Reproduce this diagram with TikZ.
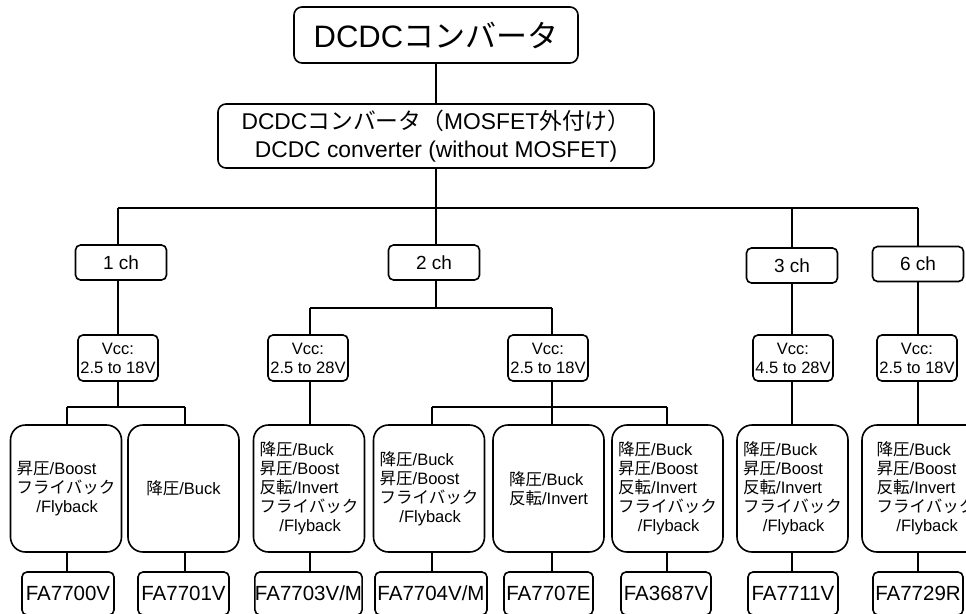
\documentclass[tikz,border=0pt]{standalone}
\usepackage{fontspec}
\setmainfont{Liberation Sans}
\newfontfamily\jp{Noto Sans CJK JP}
\begin{document}
\begin{tikzpicture}[x=1pt,y=-1pt,line width=1.6pt,
  box/.style={draw,rounded corners=5pt,inner sep=0pt,align=center},
  titlebox/.style={box,rounded corners=8pt,minimum width=284pt,minimum height=56pt,font=\fontsize{31}{36}\selectfont},
  convbox/.style={box,rounded corners=8pt,minimum width=436pt,minimum height=64pt,font=\fontsize{22.8}{28}\selectfont},
  chbox/.style={box,minimum width=91pt,minimum height=35pt,font=\fontsize{19}{22}\selectfont},
  vccbox/.style={box,minimum width=80pt,minimum height=46pt,font=\fontsize{16.5}{19}\selectfont},
  modebox/.style={box,rounded corners=15pt,minimum width=111pt,minimum height=127pt,font=\fontsize{16.5}{19}\selectfont,align=left},
  partbox/.style={box,minimum height=43pt,font=\fontsize{20.5}{24}\selectfont}]
\useasboundingbox (0,0) rectangle (966,613);
\clip (0,0) rectangle (966,613);
% nodes
\node[titlebox] (top) at (436,35) {DCDC{\jp コンバータ}};
\node[convbox] (conv) at (436,136) {DCDC{\jp コンバータ（}MOSFET{\jp 外付け）}\\ DCDC converter (without MOSFET)};
\node[chbox] (ch1) at (121,262.5) {1 ch};
\node[chbox] (ch2) at (434,262.5) {2 ch};
\node[chbox] (ch3) at (792,265.5) {3 ch};
\node[chbox] (ch6) at (918,264) {6 ch};
\node[vccbox] (vcc1) at (118,358) {Vcc:\\2.5 to 18V};
\node[vccbox] (vcc2) at (308,358) {Vcc:\\2.5 to 28V};
\node[vccbox] (vcc3) at (548,358) {Vcc:\\2.5 to 18V};
\node[vccbox] (vcc4) at (793,358) {Vcc:\\4.5 to 28V};
\node[vccbox] (vcc5) at (917,358) {Vcc:\\2.5 to 18V};
\node[modebox] (m1) at (66,488.5) {{\jp 昇圧}/Boost\\{\jp フライバック}\\\hspace*{1.2em}/Flyback};
\node[modebox,align=center] (m2) at (183.5,488.5) {{\jp 降圧}/Buck};
\node[modebox] (m3) at (309,488.5) {{\jp 降圧}/Buck\\{\jp 昇圧}/Boost\\{\jp 反転}/Invert\\{\jp フライバック}\\\hspace*{1.2em}/Flyback};
\node[modebox] (m4) at (429,488.5) {{\jp 降圧}/Buck\\{\jp 昇圧}/Boost\\{\jp フライバック}\\\hspace*{1.2em}/Flyback};
\node[modebox] (m5) at (548.5,488.5) {{\jp 降圧}/Buck\\{\jp 反転}/Invert};
\node[modebox] (m6) at (667.5,488.5) {{\jp 降圧}/Buck\\{\jp 昇圧}/Boost\\{\jp 反転}/Invert\\{\jp フライバック}\\\hspace*{1.2em}/Flyback};
\node[modebox] (m7) at (792.5,488.5) {{\jp 降圧}/Buck\\{\jp 昇圧}/Boost\\{\jp 反転}/Invert\\{\jp フライバック}\\\hspace*{1.2em}/Flyback};
\node[modebox,minimum width=128pt] (m8) at (926,488.5) {{\jp 降圧}/Buck\\{\jp 昇圧}/Boost\\{\jp 反転}/Invert\\{\jp フライバック}\\\hspace*{1.2em}/Flyback};
\node[partbox,minimum width=92pt] (p1) at (68,593.5) {FA7700V};
\node[partbox,minimum width=91pt] (p2) at (183.5,593.5) {FA7701V};
\node[partbox,minimum width=107pt] (p3) at (308.5,593.5) {FA7703V/M};
\node[partbox,minimum width=112pt] (p4) at (431,593.5) {FA7704V/M};
\node[partbox,minimum width=89pt] (p5) at (548.5,593.5) {FA7707E};
\node[partbox,minimum width=90pt] (p6) at (666,593.5) {FA3687V};
\node[partbox,minimum width=90pt] (p7) at (793,593.5) {FA7711V};
\node[partbox,minimum width=90pt] (p8) at (918,593.5) {FA7729R};
% junctions
\coordinate (b1) at (118,208);
\coordinate (b2) at (436,208);
\coordinate (b3) at (792,208);
\coordinate (b6) at (918,208);
\coordinate (s1) at (118,407);
\coordinate (s1a) at (67,407);
\coordinate (s1b) at (185,407);
\coordinate (t) at (436,308);
\coordinate (ta) at (310,308);
\coordinate (tb) at (552,308);
\coordinate (ua) at (432,407);
\coordinate (u) at (552,407);
\coordinate (ub) at (667,407);
% connectors
\draw (top) -- (conv);
\draw (conv.south) -- (b2);
\draw (b1) -- (b6);
\draw (b1) -- (b1 |- ch1.north);
\draw (b2) -- (b2 |- ch2.north);
\draw (b3) -- (b3 |- ch3.north);
\draw (b6) -- (b6 |- ch6.north);
% 1 ch
\draw (b1 |- ch1.south) -- (b1 |- vcc1.north);
\draw (b1 |- vcc1.south) -- (s1);
\draw (s1a) -- (s1b);
\draw (s1a) -- (s1a |- m1.north);
\draw (s1b) -- (s1b |- m2.north);
\draw (s1a |- m1.south) -- (s1a |- p1.north);
\draw (s1b |- m2.south) -- (s1b |- p2.north);
% 2 ch
\draw (b2 |- ch2.south) -- (t);
\draw (ta) -- (tb);
\draw (ta) -- (ta |- vcc2.north);
\draw (tb) -- (tb |- vcc3.north);
\draw (ta |- vcc2.south) -- (ta |- m3.north);
\draw (ta |- m3.south) -- (ta |- p3.north);
\draw (tb |- vcc3.south) -- (u);
\draw (ua) -- (ub);
\draw (ua) -- (ua |- m4.north);
\draw (u) -- (u |- m5.north);
\draw (ub) -- (ub |- m6.north);
\draw (ua |- m4.south) -- (ua |- p4.north);
\draw (u |- m5.south) -- (u |- p5.north);
\draw (ub |- m6.south) -- (ub |- p6.north);
% 3 ch
\draw (b3 |- ch3.south) -- (b3 |- vcc4.north);
\draw (b3 |- vcc4.south) -- (b3 |- m7.north);
\draw (b3 |- m7.south) -- (b3 |- p7.north);
% 6 ch
\draw (b6 |- ch6.south) -- (b6 |- vcc5.north);
\draw (b6 |- vcc5.south) -- (b6 |- m8.north);
\draw (b6 |- m8.south) -- (b6 |- p8.north);
\end{tikzpicture}
\end{document}
